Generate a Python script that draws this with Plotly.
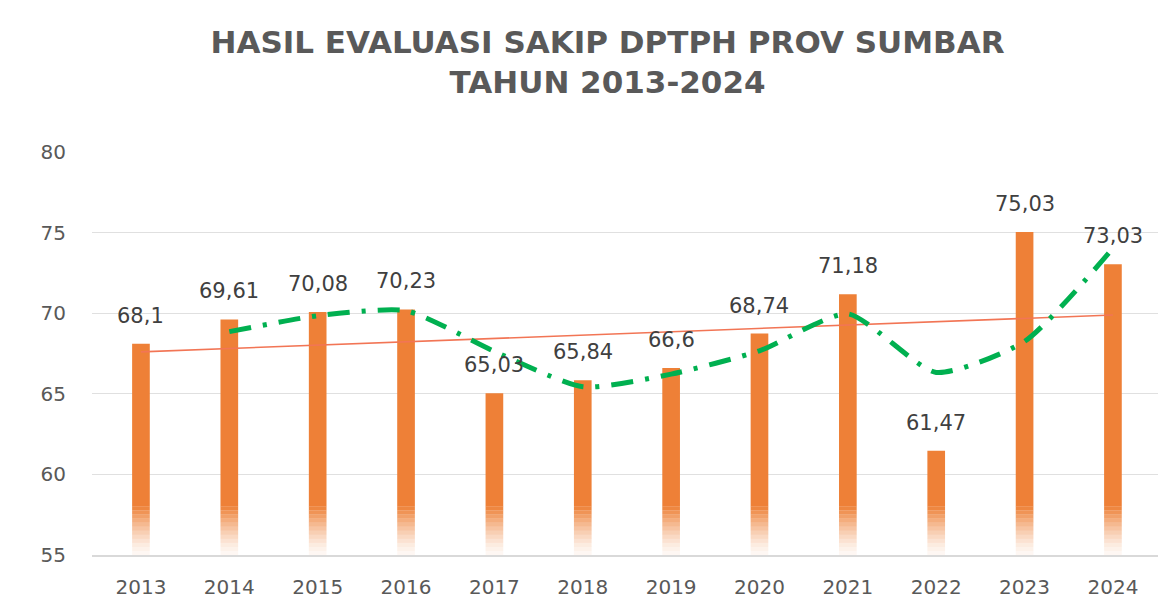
import numpy as np
import pandas as pd
import plotly.graph_objects as go

years = ["2013", "2014", "2015", "2016", "2017", "2018", "2019", "2020", "2021", "2022", "2023", "2024"]
scores = [68.1, 69.61, 70.08, 70.23, 65.03, 65.84, 66.6, 68.74, 71.18, 61.47, 75.03, 73.03]
y_ticks = [55, 60, 65, 70, 75, 80]

title_text = "HASIL EVALUASI SAKIP DPTPH PROV SUMBAR<br>TAHUN 2013-2024"

AXIS_MIN = 55
FADE_TOP = 58.0
BAR_RGB = (237, 125, 49)

labels = [f"{v:g}".replace(".", ",") for v in scores]

fig = go.Figure()

# fading lower segments of the bars
n_steps = 12
step = (FADE_TOP - AXIS_MIN) / n_steps
for i in range(n_steps):
    alpha = 0.06 + 0.86 * (i / (n_steps - 1)) ** 1.3
    fig.add_trace(go.Bar(
        x=years, y=[step] * len(years), base=[AXIS_MIN + i * step] * len(years),
        width=0.2, marker=dict(color=f"rgba({BAR_RGB[0]},{BAR_RGB[1]},{BAR_RGB[2]},{alpha:.2f})", line=dict(width=0)),
        showlegend=False, hoverinfo="skip"))

# main solid part of bars
fig.add_trace(go.Bar(
    x=years, y=[v - FADE_TOP for v in scores], base=[FADE_TOP] * len(scores),
    width=0.2, marker=dict(color="rgb(238,128,55)", line=dict(width=0)),
    showlegend=False))

# linear trendline
idx = np.arange(len(scores))
slope, intercept = np.polyfit(idx, scores, 1)
trend = slope * idx + intercept
fig.add_trace(go.Scatter(
    x=years, y=trend, mode="lines",
    line=dict(color="#F27555", width=1.6), showlegend=False, hoverinfo="skip"))

# 2-period moving average
mavg = pd.Series(scores).rolling(2).mean().tolist()
fig.add_trace(go.Scatter(
    x=years[1:], y=mavg[1:], mode="lines", line_shape="spline",
    line=dict(color="#00B050", width=5, dash="22px,12px,4px,12px", smoothing=0.6),
    showlegend=False, hoverinfo="skip"))

# value labels (category axis: annotations positioned by category index)
for i, (v, lab) in enumerate(zip(scores, labels)):
    fig.add_annotation(x=i, y=v, xref="x", yref="y", text=lab, showarrow=False,
                       yanchor="bottom", yshift=14,
                       font=dict(family="DejaVu Sans", size=21, color="#404040"))

fig.update_layout(
    width=1171, height=615,
    margin=dict(l=84, r=21, t=144, b=68),
    paper_bgcolor="white", plot_bgcolor="white",
    barmode="overlay",
    title=dict(text=title_text, x=0.512, xanchor="center", y=0.927, yanchor="top",
               font=dict(family="DejaVu Sans", size=31, color="#595959", weight="bold")),
    xaxis=dict(type="category", range=[-0.554, 11.51], showgrid=False,
               showline=True, linecolor="#D9D9D9", linewidth=2,
               tickfont=dict(family="DejaVu Sans", size=20, color="#595959"), ticks="",
               ticklabelstandoff=13),
    yaxis=dict(range=[55, 80], tickvals=y_ticks, showgrid=True, gridcolor="#E0E0E0",
               gridwidth=1, zeroline=False, showline=False, ticks="",
               tickfont=dict(family="DejaVu Sans", size=20, color="#595959"),
               ticklabelstandoff=25),
)

fig.write_html("out.html")
